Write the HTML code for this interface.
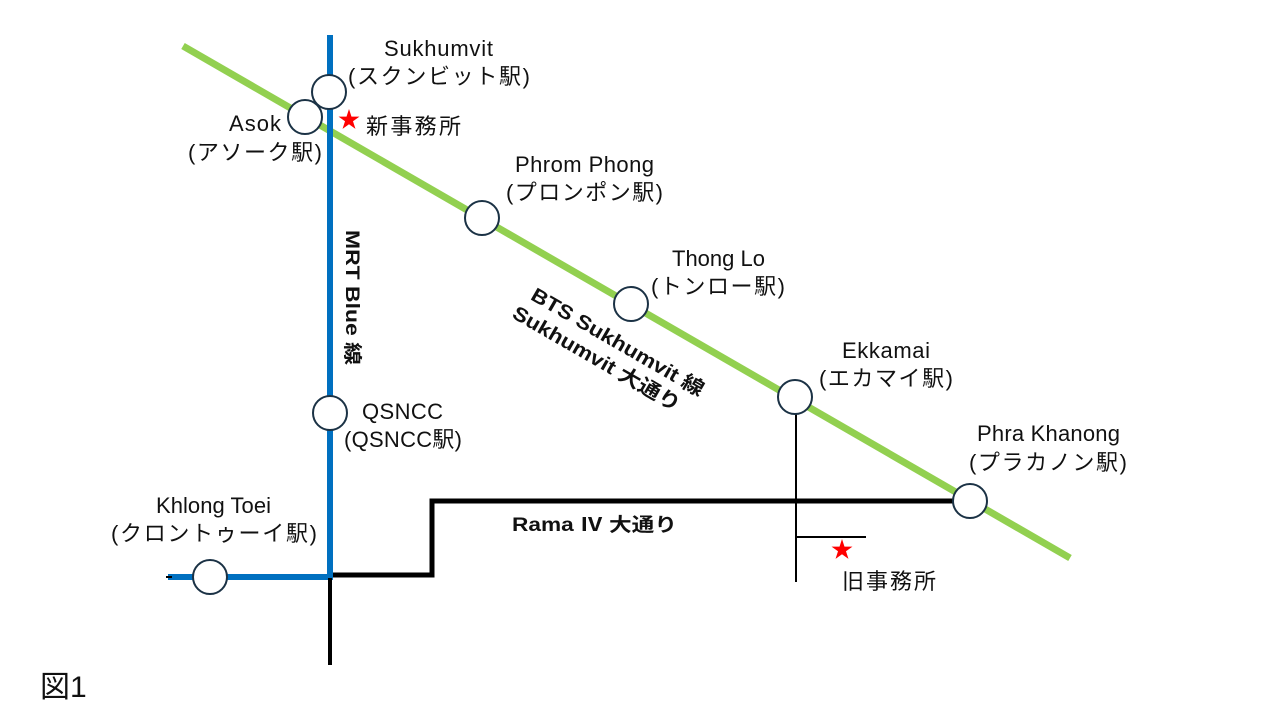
<!DOCTYPE html>
<html><head><meta charset="utf-8"><style>
html,body{margin:0;padding:0;background:#fff;}
svg{display:block;}
text{font-family:"Liberation Sans","Noto Sans CJK JP",sans-serif;fill:#111;}
</style></head><body>
<svg width="1280" height="720" viewBox="0 0 1280 720" xmlns="http://www.w3.org/2000/svg">
<line x1="183" y1="46" x2="1070" y2="558" stroke="#92D050" stroke-width="7"/>
<line x1="330" y1="35" x2="330" y2="580" stroke="#0070C0" stroke-width="6"/>
<line x1="168" y1="577" x2="333" y2="577" stroke="#0070C0" stroke-width="6"/>
<line x1="166" y1="577" x2="172" y2="577" stroke="#000" stroke-width="2"/>
<polyline points="333,575 432,575 432,501 970,501" fill="none" stroke="#000" stroke-width="5"/>
<line x1="330" y1="578" x2="330" y2="665" stroke="#000" stroke-width="4"/>
<line x1="796" y1="398" x2="796" y2="582" stroke="#000" stroke-width="2"/>
<line x1="796" y1="537" x2="866" y2="537" stroke="#000" stroke-width="2"/>
<g fill="#fff" stroke="#1b3245" stroke-width="2">
<circle cx="305" cy="117" r="17"/>
<circle cx="329" cy="92" r="17"/>
<circle cx="482" cy="218" r="17"/>
<circle cx="631" cy="304" r="17"/>
<circle cx="795" cy="397" r="17"/>
<circle cx="970" cy="501" r="17"/>
<circle cx="330" cy="413" r="17"/>
<circle cx="210" cy="577" r="17"/>
</g>
<g font-size="22" lengthAdjust="spacingAndGlyphs">
<text x="384" y="56" textLength="109">Sukhumvit</text>
<text x="348" y="84" textLength="182">(スクンビット駅)</text>
<text x="229" y="131" textLength="52">Asok</text>
<text x="188" y="160" textLength="134">(アソーク駅)</text>
<text x="366" y="134" textLength="95">新事務所</text>
<text x="515" y="172" textLength="139">Phrom Phong</text>
<text x="506" y="200" textLength="157">(プロンポン駅)</text>
<text x="672" y="266" textLength="93">Thong Lo</text>
<text x="651" y="294" textLength="134">(トンロー駅)</text>
<text x="842" y="358" textLength="88">Ekkamai</text>
<text x="819" y="386" textLength="134">(エカマイ駅)</text>
<text x="977" y="441" textLength="143">Phra Khanong</text>
<text x="969" y="470" textLength="158">(プラカノン駅)</text>
<text x="362" y="419" textLength="81">QSNCC</text>
<text x="344" y="447" textLength="118">(QSNCC駅)</text>
<text x="156" y="513" textLength="115">Khlong Toei</text>
<text x="111" y="541" textLength="206">(クロントゥーイ駅)</text>
<text x="842" y="589" textLength="94">旧事務所</text>
</g>
<text x="40" y="697" font-size="30">図1</text>
<polygon transform="translate(349,120) scale(11)" points="0,-1 0.2245,-0.309 0.951,-0.309 0.363,0.118 0.588,0.809 0,0.382 -0.588,0.809 -0.363,0.118 -0.951,-0.309 -0.2245,-0.309" fill="#f00"/>
<polygon transform="translate(842,550) scale(11)" points="0,-1 0.2245,-0.309 0.951,-0.309 0.363,0.118 0.588,0.809 0,0.382 -0.588,0.809 -0.363,0.118 -0.951,-0.309 -0.2245,-0.309" fill="#f00"/>
<text x="512" y="531" font-size="19" font-weight="bold" textLength="165" lengthAdjust="spacingAndGlyphs">Rama Ⅳ 大通り</text>
<text transform="translate(346,230) rotate(90)" font-size="19" font-weight="bold" textLength="135" lengthAdjust="spacingAndGlyphs">MRT Blue 線</text>
<g transform="translate(612,350) rotate(30)" font-size="20" font-weight="bold">
<text x="-97" y="-3" textLength="196" lengthAdjust="spacingAndGlyphs">BTS Sukhumvit 線</text>
<text x="-104" y="22" textLength="190" lengthAdjust="spacingAndGlyphs">Sukhumvit 大通り</text>
</g>
</svg>
</body></html>
